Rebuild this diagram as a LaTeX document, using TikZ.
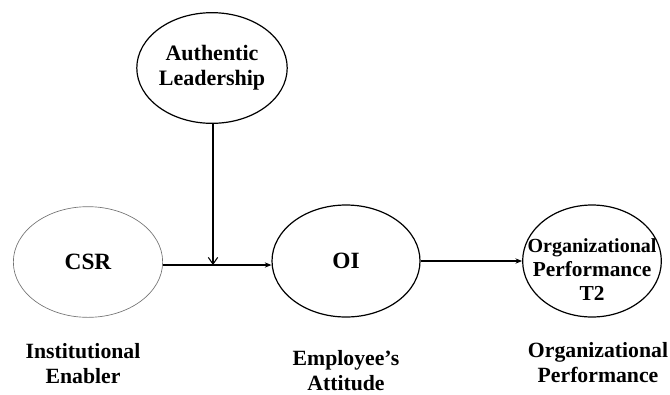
\documentclass[tikz,border=0pt]{standalone}
\usepackage{fontspec}
\setmainfont{Liberation Serif}
\usetikzlibrary{shapes.geometric,arrows.meta}
\begin{document}
\begin{tikzpicture}[x=0.75pt,y=-0.75pt,
  construct/.style={draw=black,line width=0.9pt,ellipse,inner sep=0pt},
  caption/.style={font=\bfseries\fontsize{16.3}{18.75}\selectfont,align=center},
  link/.style={line width=0.8pt,-{Stealth[length=5pt,width=4pt]}}
]
\useasboundingbox (0,0) rectangle (670,394);
% constructs
\node[construct,minimum width=111pt,minimum height=83pt,font=\bfseries\fontsize{16.5}{19}\selectfont,align=center] (al) at (212,68) {Authentic\\Leadership};
\node[construct,draw=black!55,line width=0.5pt,minimum width=112pt,minimum height=83pt,font=\bfseries\fontsize{17.5}{20}\selectfont] (csr) at (88,262) {CSR};
\node[construct,minimum width=111pt,minimum height=84pt,font=\bfseries\fontsize{17.5}{20}\selectfont] (oi) at (346,261) {OI};
\node[construct,minimum width=104pt,minimum height=84pt] (op) at (592,261) {};
\node[inner sep=0pt,font=\bfseries\fontsize{15}{16}\selectfont,align=center] (optext) at (592,270) {Organizational\\[2pt]\fontsize{16}{16}\selectfont Performance\\[2pt]\fontsize{16}{16}\selectfont T2};
% moderating path meets the CSR -> OI path
\coordinate (m) at (213,265);
\draw[line width=0.8pt] (csr.east |- m) -- (m);
\draw[link] (m) -- (oi.west |- m);
\draw[line width=0.8pt,-{Straight Barb[length=5pt,width=7pt]}] (al.south -| m) -- (m);
\draw[link] (oi.east) -- (op.west);
% level captions
\node[caption] (c1) at (83,364) {Institutional\\Enabler};
\node[caption] (c2) at (346,371) {Employee’s\\Attitude};
\node[caption] (c3) at (598,363) {Organizational\\Performance};
\end{tikzpicture}
\end{document}
